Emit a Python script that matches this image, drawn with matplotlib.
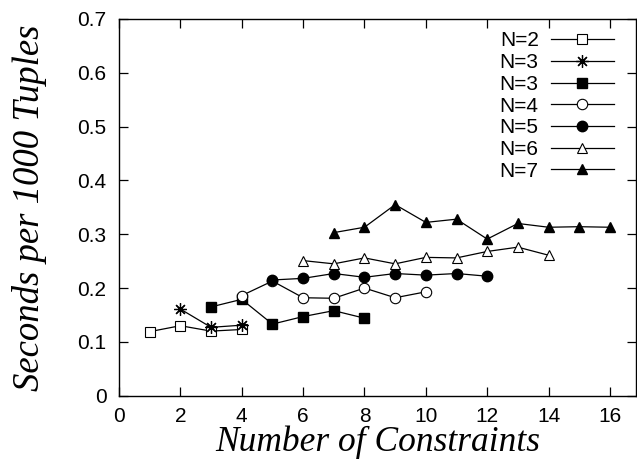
import matplotlib
matplotlib.use("Agg")
import matplotlib.pyplot as plt

# N=2 .. N=7 timings (seconds per 1000 tuples)
x_n2 = [1, 2, 3, 4]
y_n2 = [0.119, 0.130, 0.120, 0.123]

x_n3a = [2, 3, 4]
y_n3a = [0.161, 0.127, 0.131]

x_n3b = [3, 4, 5, 6, 7, 8]
y_n3b = [0.165, 0.179, 0.133, 0.147, 0.158, 0.144]

x_n4 = [4, 5, 6, 7, 8, 9, 10]
y_n4 = [0.186, 0.213, 0.182, 0.181, 0.200, 0.182, 0.193]

x_n5 = [5, 6, 7, 8, 9, 10, 11, 12]
y_n5 = [0.215, 0.218, 0.227, 0.220, 0.227, 0.224, 0.227, 0.222]

x_n6 = [6, 7, 8, 9, 10, 11, 12, 13, 14]
y_n6 = [0.251, 0.245, 0.256, 0.245, 0.257, 0.256, 0.268, 0.276, 0.261]

x_n7 = [7, 8, 9, 10, 11, 12, 13, 14, 15, 16]
y_n7 = [0.303, 0.313, 0.355, 0.322, 0.328, 0.291, 0.320, 0.313, 0.314, 0.313]

labels = ["N=2", "N=3", "N=3", "N=4", "N=5", "N=6", "N=7"]

plt.rcParams["font.family"] = ["Liberation Sans", "DejaVu Sans"]

fig = plt.figure(figsize=(6.37, 4.63), dpi=100)
ax = fig.add_axes([0.1868, 0.1454, 0.8117, 0.8136])

lw = 0.9
ms = 7
ax.plot(x_n2, y_n2, color="black", lw=lw, marker="s", ms=ms, mfc="white", mec="black", mew=0.8, label=labels[0])
ax.plot(x_n3a, y_n3a, color="black", lw=lw, marker=(8, 2, 0), ms=ms + 2, mec="black", mew=0.9, label=labels[1])
ax.plot(x_n3b, y_n3b, color="black", lw=lw, marker="s", ms=ms, mfc="black", mec="black", label=labels[2])
ax.plot(x_n4, y_n4, color="black", lw=lw, marker="o", ms=ms + 0.5, mfc="white", mec="black", mew=0.8, label=labels[3])
ax.plot(x_n5, y_n5, color="black", lw=lw, marker="o", ms=ms + 0.5, mfc="black", mec="black", label=labels[4])
ax.plot(x_n6, y_n6, color="black", lw=lw, marker="^", ms=ms, mfc="white", mec="black", mew=0.8, label=labels[5])
ax.plot(x_n7, y_n7, color="black", lw=lw, marker="^", ms=ms, mfc="black", mec="black", label=labels[6])

ax.set_xlim(0, 16.85)
ax.set_ylim(0, 0.7)
ax.set_xticks(range(0, 17, 2))
ax.set_yticks([0, 0.1, 0.2, 0.3, 0.4, 0.5, 0.6, 0.7])
ax.set_yticklabels(["0", "0.1", "0.2", "0.3", "0.4", "0.5", "0.6", "0.7"])

ax.tick_params(direction="in", length=6.5, width=0.9, top=True, right=True,
               labelsize=15)
ax.tick_params(axis="x", pad=8)
ax.tick_params(axis="y", pad=9)
for s in ax.spines.values():
    s.set_linewidth(1.0)

ax.set_xlabel("Number of Constraints", family=["Liberation Serif"], style="italic",
              fontsize=25.5, labelpad=0)
ax.set_ylabel("Seconds per 1000 Tuples", family=["Liberation Serif"], style="italic",
              fontsize=26.5, labelpad=22)

ax.legend(loc="upper right", bbox_to_anchor=(0.981, 1.0), frameon=False,
          markerfirst=False, fontsize=15,
          handlelength=3.0, handletextpad=0.6, labelspacing=0.13,
          borderaxespad=0.3, borderpad=0.3)

fig.savefig("out.png", dpi=100)
